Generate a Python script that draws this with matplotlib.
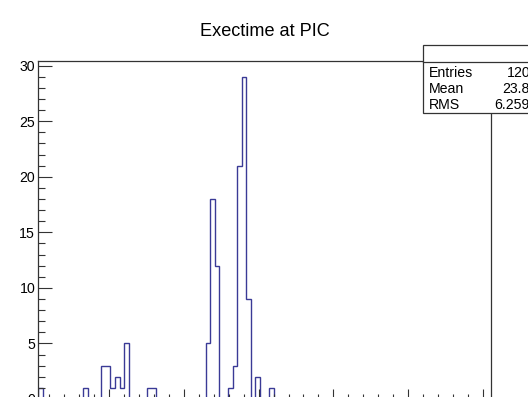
import numpy as np
import matplotlib
matplotlib.use("Agg")
import matplotlib.pyplot as plt
from matplotlib.patches import Rectangle
from matplotlib.lines import Line2D
from matplotlib.ticker import MultipleLocator

plt.rcParams['font.family'] = ['Liberation Sans', 'DejaVu Sans']

# ---- data ----
title = "Exectime at PIC"
n_bins = 100
x_min = 0.47
x_max = 61.1
# non-empty bins: index -> count
filled_bins = [0, 10, 14, 15, 16, 17, 18, 19, 24, 25, 37, 38, 39, 42, 43, 44, 45, 46, 48, 51]
filled_counts = [1, 1, 3, 3, 1, 2, 1, 5, 1, 1, 5, 18, 12, 1, 3, 21, 29, 9, 2, 1]
stat_labels = ["Entries", "Mean", "RMS"]
stat_values = ["120", "23.8", "6.259"]

counts = np.zeros(n_bins)
counts[filled_bins] = filled_counts
edges = np.linspace(x_min, x_max, n_bins + 1)

W, H = 528, 397
fig = plt.figure(figsize=(W / 100, H / 100), dpi=100)
fig.patch.set_facecolor('white')

left, right, top, bottom = 38, 491, 60.7, 399
ax = fig.add_axes([left / W, 1 - bottom / H, (right - left) / W, (bottom - top) / H])
ax.stairs(counts, edges, baseline=0, color='#3a3a96', lw=1.0)
ax.set_xlim(x_min, x_max)
ax.set_ylim(0, 30.45)

for s in ax.spines.values():
    s.set_color('#333333')
    s.set_linewidth(0.9)

ax.yaxis.set_major_locator(MultipleLocator(5))
ax.yaxis.set_minor_locator(MultipleLocator(1))
ax.xaxis.set_major_locator(MultipleLocator(10))
ax.xaxis.set_minor_locator(MultipleLocator(2))
ax.tick_params(axis='y', which='major', direction='in', length=10, width=0.8,
               color='#333333', labelsize=10.2, pad=2)
ax.tick_params(axis='y', which='minor', direction='in', length=5, width=0.8, color='#333333')
ax.tick_params(axis='x', which='major', direction='in', length=7, width=0.8,
               color='#333333', labelbottom=False)
ax.tick_params(axis='x', which='minor', direction='in', length=3.5, width=0.8, color='#333333')

fig.text(265 / W, 1 - 32 / H, title, ha='center', va='center', fontsize=13.1, color='black')

# stats box
bx0, by0, by1, bhead = 423.3, 45, 113.3, 62.3
rect = Rectangle((bx0 / W, 1 - by1 / H), (620 - bx0) / W, (by1 - by0) / H,
                 transform=fig.transFigure, facecolor='white', edgecolor='#333333',
                 lw=0.9, zorder=5)
fig.add_artist(rect)
fig.add_artist(Line2D([bx0 / W, 1.2], [1 - bhead / H, 1 - bhead / H],
                      transform=fig.transFigure, color='#333333', lw=0.9, zorder=6))
rows_y = [72.7, 89, 105]
for lab, val, yy in zip(stat_labels, stat_values, rows_y):
    fig.text(429.3 / W, 1 - yy / H, lab, ha='left', va='center', fontsize=10.2, zorder=7)
    fig.text(530 / W, 1 - yy / H, val, ha='right', va='center', fontsize=10.2, zorder=7)

fig.savefig('out.png', dpi=100)
